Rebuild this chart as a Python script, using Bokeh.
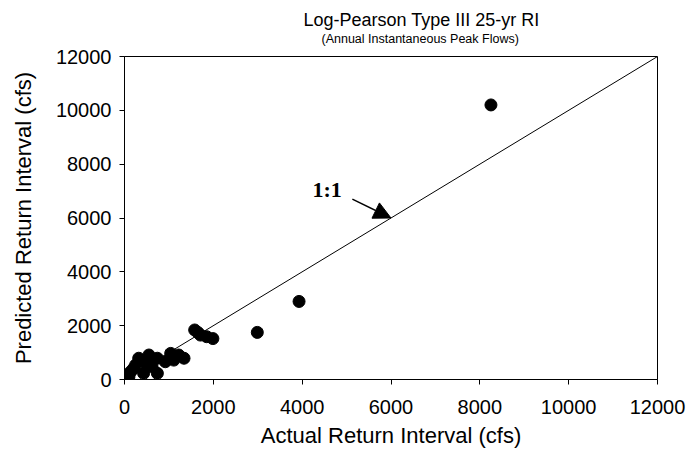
from bokeh.plotting import figure
from bokeh.models import Range1d, FixedTicker, Label, Arrow, NormalHead, ColumnDataSource, Title
from bokeh.embed import file_html
from bokeh.resources import INLINE

# ---- data ----
actual = [8250, 3930, 2990, 1580, 1650, 1710, 1850, 1990,
          1040, 1220, 1340, 920, 1110,
          550, 740, 320, 250, 620, 740, 430, 140, 60, 510, 200, 100]
predicted = [10200, 2900, 1750, 1840, 1750, 1650, 1590, 1520,
             970, 910, 790, 660, 720,
             910, 790, 790, 540, 480, 230, 230, 290, 170, 540, 400, 100]
line_x = [0, 12000]
line_y = [0, 12000]
ticks = [0, 2000, 4000, 6000, 8000, 10000, 12000]
title_text = "Log-Pearson Type III 25-yr RI"
subtitle_text = "(Annual Instantaneous Peak Flows)"
x_label = "Actual Return Interval (cfs)"
y_label = "Predicted Return Interval (cfs)"
ratio_text = "1:1"
ratio_pos = (4560, 7050)
arrow_start = (5130, 6700)
arrow_end = (6000, 6000)

FONT = "Liberation Sans"

p = figure(output_backend="svg", toolbar_location=None,
           x_range=Range1d(0, 12000), y_range=Range1d(0, 12000),
           frame_width=533, frame_height=323,
           min_border_left=124, min_border_right=34,
           min_border_top=56, min_border_bottom=74,
           background_fill_color="white", border_fill_color="white")

p.outline_line_color = "black"
p.outline_line_width = 1
p.xgrid.visible = False
p.ygrid.visible = False

for ax in (p.xaxis[0], p.yaxis[0]):
    ax.ticker = FixedTicker(ticks=ticks)
    ax.minor_tick_line_color = None
    ax.major_tick_in = 0
    ax.major_tick_out = 5
    ax.axis_line_color = "black"
    ax.major_tick_line_color = "black"
    ax.major_label_text_font = FONT
    ax.major_label_text_font_size = "20px"
    ax.major_label_text_color = "black"
    ax.axis_label_text_font = FONT
    ax.axis_label_text_font_size = "22px"
    ax.axis_label_text_font_style = "normal"
    ax.axis_label_text_color = "black"

p.xaxis[0].axis_label = x_label
p.yaxis[0].axis_label = y_label
p.xaxis[0].major_label_standoff = 15
p.xaxis[0].axis_label_standoff = 6
p.yaxis[0].major_label_standoff = 8
p.yaxis[0].axis_label_standoff = 17

# 1:1 line
p.line(line_x, line_y, line_color="black", line_width=1)

# points
src = ColumnDataSource(dict(x=actual, y=predicted))
p.scatter("x", "y", source=src, size=12, fill_color="black", line_color="black")

# annotation
p.add_layout(Label(x=ratio_pos[0], y=ratio_pos[1], text=ratio_text,
                   text_font="Liberation Serif", text_font_style="bold",
                   text_font_size="22px", text_align="center",
                   text_baseline="middle", text_color="black"))
p.add_layout(Arrow(x_start=arrow_start[0], y_start=arrow_start[1],
                   x_end=arrow_end[0], y_end=arrow_end[1],
                   line_color="black", line_width=1.5,
                   end=NormalHead(size=17, fill_color="black", line_color="black")))

# titles: small blank spacer nearest the frame, then subtitle, then main title
p.add_layout(Title(text=" ", text_font_size="1px", standoff=8), "above")
p.add_layout(Title(text=subtitle_text, text_font=FONT, text_font_size="12.5px",
                   text_font_style="normal", text_color="black",
                   align="left", offset=197, standoff=0), "above")
p.add_layout(Title(text=title_text, text_font=FONT, text_font_size="18px",
                   text_font_style="normal", text_color="black",
                   align="left", offset=179, standoff=0), "above")

open("out.html", "w").write(file_html(p, INLINE))
